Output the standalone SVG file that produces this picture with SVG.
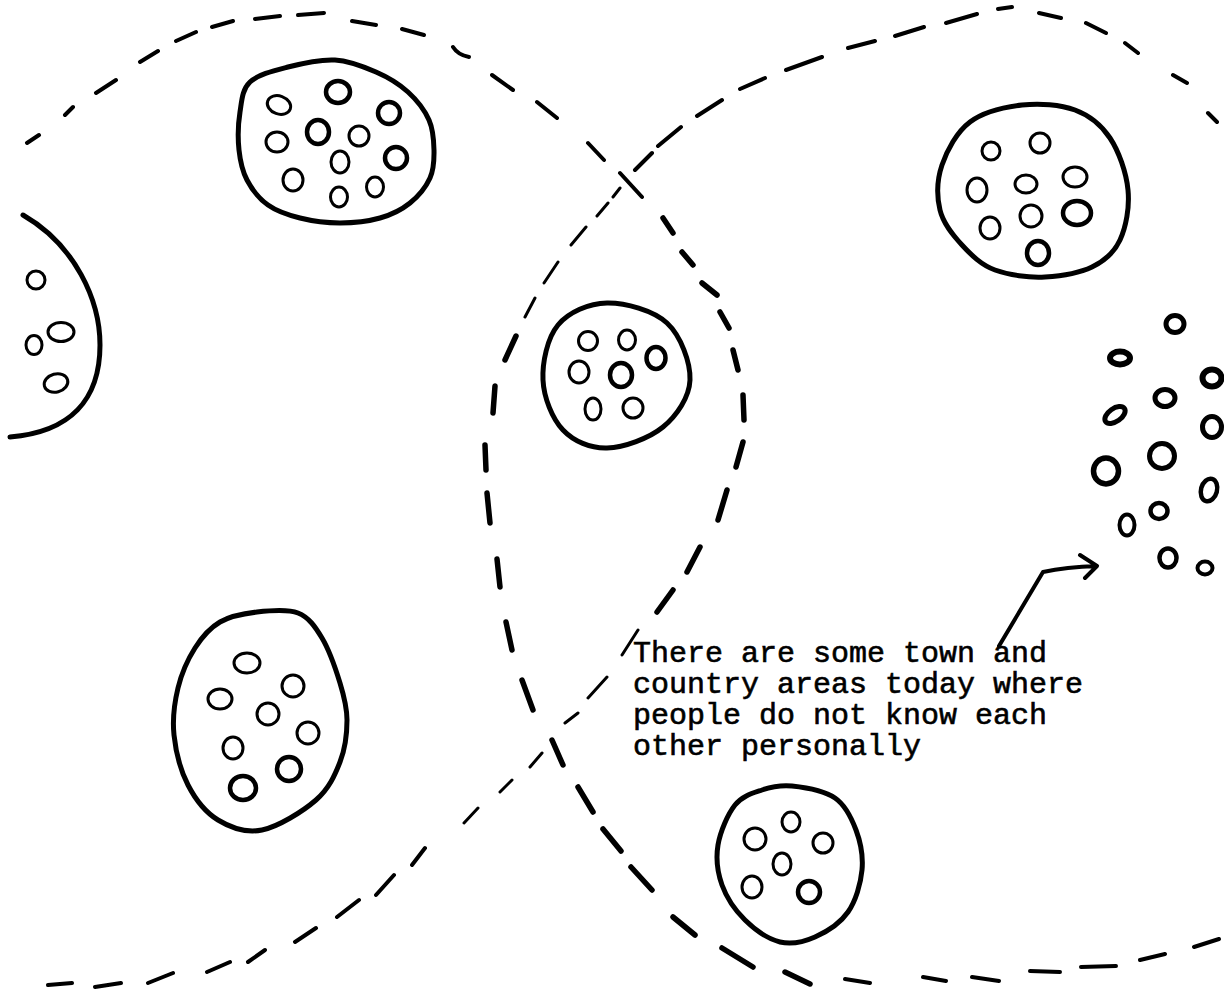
<svg xmlns="http://www.w3.org/2000/svg" width="1224" height="993" viewBox="0 0 1224 993">
<style>
.blob{fill:none;stroke:#000;stroke-width:5;stroke-linejoin:round;stroke-linecap:round}
.c{fill:none;stroke:#000;stroke-width:3}
.cb{fill:none;stroke:#000;stroke-width:4.5}
.d{fill:none;stroke:#000;stroke-linecap:round;stroke-width:4}
.dt{stroke-width:3}
.dk{stroke-width:5.5}
.txt{font-family:"Liberation Mono","DejaVu Sans Mono",monospace;font-size:30px;fill:#000;stroke:#000;stroke-width:0.6}
</style>
<rect width="1224" height="993" fill="#fff"/>
<g id="regions">
<path class="d" d="M27,143L39,135 M65,115L73,107 M96,93L116,80 M140,62L158,51 M176,41L196,32 M212,27L233,21 M255,19L280,16 M298,15L324,13 M352,21L376,25 M402,29L424,35 M453,47Q458,55 469,57 M492,75L513,90 M537,102L557,118 M588,143L604,160 M620,173L642,197"/>
<path class="d dk" d="M663,218L673,233 M682,252L693,265 M702,283L717,295 M720,312L729,328 M733,350L738,370 M743,395L744,420 M743,442L736,467 M727,490L718,520 M700,547L687,572 M673,590L657,612"/>
<path class="d dt" d="M638,630L622,655 M607,677L588,698 M578,713L565,723 M542,753L530,767 M512,780L500,792 M478,808L464,823"/>
<path class="d" d="M425,848L412,865 M394,875L376,895 M359,900L337,917 M316,928L295,942 M265,950L248,962 M230,962L207,972 M173,973L148,983 M121,983L95,987 M72,983L48,985"/>
<path class="d" d="M1217,122L1208,113 M1187,83L1173,75 M1138,53L1125,43 M1106,33L1086,23 M1061,18L1039,13 M1012,7L998,9 M977,14L946,23 M924,27L895,36 M875,41L848,48 M822,57L786,70 M765,78L740,89 M722,100L697,116 M681,127L658,146 M652,153L635,170"/>
<path class="d dt" d="M620,188L613,197 M608,203L597,216 M586,227L571,245 M558,262L544,283 M535,298L525,317"/>
<path class="d dk" d="M516,336L505,360 M495,386L493,413 M485,445L486,470 M487,493L490,523 M497,559L500,587 M506,622L512,650 M522,680L533,710 M552,740L563,765 M578,787L593,812 M603,829L621,851 M631,867L652,890 M673,917L695,935 M722,948L753,967 M785,972L810,984"/>
<path class="d" d="M845,979L870,983 M923,977L946,981 M972,977L999,981 M1030,971L1060,972 M1081,967L1116,966 M1140,960L1165,954 M1194,947L1219,939"/>
</g>
<g id="community-top-left">
<path class="blob" d="M335,60 C349.7,60.8 363.8,66.7 376,72 S399.2,84 408,92 S424.7,110.3 429,120 S433.8,140.3 434,150 S434,169.2 430,178 S418.3,196.3 410,203 S391.7,214.7 380,218 S353.3,223 340,223 S312,221 300,218 S276.8,211.3 268,205 S251.8,189.2 247,180 S240.2,161.3 239,150 S238.2,123.3 240,112 S242,89.5 250,82 S273.8,70.7 288,67 S320.3,59.2 335,60 Z"/>
<ellipse class="c" cx="279" cy="105" rx="12" ry="9" transform="rotate(20 279 105)"/>
<ellipse class="cb" cx="338" cy="92" rx="12" ry="11"/>
<ellipse class="cb" cx="389" cy="113" rx="11" ry="11"/>
<ellipse class="c" cx="277" cy="142" rx="11" ry="10"/>
<ellipse class="cb" cx="318" cy="132" rx="11" ry="12"/>
<ellipse class="c" cx="359" cy="136" rx="10" ry="10"/>
<ellipse class="cb" cx="396" cy="158" rx="11" ry="11"/>
<ellipse class="c" cx="340" cy="162" rx="9" ry="11"/>
<ellipse class="c" cx="293" cy="180" rx="10" ry="11"/>
<ellipse class="c" cx="339" cy="197" rx="8.5" ry="10"/>
<ellipse class="c" cx="375" cy="187" rx="8.5" ry="10"/>
</g>
<g id="community-left">
<path class="blob" d="M23,215 C75,245 100,300 100,345 C100,400 70,432 10,437"/>
<ellipse class="c" cx="36" cy="280" rx="9" ry="9"/>
<ellipse class="c" cx="61" cy="332" rx="13" ry="9.5"/>
<ellipse class="c" cx="34" cy="345" rx="8" ry="9.5"/>
<ellipse class="c" cx="56" cy="383" rx="12" ry="9" transform="rotate(-15 56 383)"/>
</g>
<g id="community-bottom-left">
<path class="blob" d="M257,612 C270,610.5 287.2,608.7 298,613 S315,626.3 322,638 S335.8,669.3 340,683 S347,706.8 347,720 S345.2,748.7 340,762 S329,788.7 316,800 S278.3,826.7 262,830 S230.3,827.5 218,820 S195.3,799.2 188,785 S175.7,751.2 174,735 S174.5,702.5 178,688 S188,659 195,648 S209.7,628 220,622 S244,613.5 257,612 Z"/>
<ellipse class="c" cx="247" cy="663" rx="13" ry="10"/>
<ellipse class="c" cx="293" cy="686" rx="11" ry="11"/>
<ellipse class="c" cx="220" cy="699" rx="12" ry="10"/>
<ellipse class="c" cx="268" cy="714" rx="11" ry="11"/>
<ellipse class="c" cx="308" cy="733" rx="11" ry="11"/>
<ellipse class="c" cx="233" cy="748" rx="10" ry="11"/>
<ellipse class="cb" cx="289" cy="769" rx="12" ry="12"/>
<ellipse class="cb" cx="243" cy="788" rx="13" ry="12"/>
</g>
<g id="community-center">
<path class="blob" d="M607,303 C625.2,302.7 653.2,310.2 667,323 S690.7,362.7 690,380 S676.8,415.7 663,427 S623.7,447.5 607,448 S573.7,441.3 563,430 S543.8,397.5 543,380 S547.3,337.8 558,325 S588.8,303.3 607,303 Z"/>
<ellipse class="c" cx="588" cy="341" rx="9.5" ry="9.5"/>
<ellipse class="c" cx="627" cy="340" rx="8.5" ry="10"/>
<ellipse class="cb" cx="656" cy="358" rx="9.5" ry="11"/>
<ellipse class="c" cx="579" cy="372" rx="10" ry="11"/>
<ellipse class="cb" cx="621" cy="375" rx="11" ry="12"/>
<ellipse class="c" cx="593" cy="409" rx="8" ry="11"/>
<ellipse class="c" cx="633" cy="408" rx="10" ry="10"/>
</g>
<g id="community-top-right">
<path class="blob" d="M1022,105 C1039.5,103 1060.3,104.5 1075,110 S1101.2,124.7 1110,138 S1126.3,172.5 1128,190 S1126,227 1120,240 S1104.5,261 1092,267 S1061.2,276 1045,277 S1008.8,275 995,270 S971.2,255 962,245 S943.3,223.8 940,210 S937,179.7 942,165 S956.7,132 970,122 S1004.5,107 1022,105 Z"/>
<ellipse class="c" cx="991" cy="151" rx="9" ry="9"/>
<ellipse class="c" cx="1040" cy="143" rx="10" ry="10"/>
<ellipse class="c" cx="1075" cy="177" rx="12" ry="10"/>
<ellipse class="c" cx="977" cy="190" rx="10" ry="12"/>
<ellipse class="c" cx="1026" cy="184" rx="11" ry="9"/>
<ellipse class="c" cx="1031" cy="216" rx="11" ry="11"/>
<ellipse class="cb" cx="1077" cy="213" rx="14" ry="12"/>
<ellipse class="c" cx="990" cy="228" rx="10" ry="11"/>
<ellipse class="cb" cx="1038" cy="253" rx="11" ry="12"/>
</g>
<g id="community-bottom">
<path class="blob" d="M792,786 C804.2,787.3 824.3,790.7 835,798 S851.5,818 856,830 S863.3,856.3 862,870 S855.8,900.8 848,912 S826.3,932 815,937 S791.7,944.8 780,942 S754.7,929.5 745,920 S726.5,897.5 722,885 S715.8,858.3 718,845 S727.7,814.2 735,805 S752.5,793.2 762,790 S779.8,784.7 792,786 Z"/>
<ellipse class="c" cx="791" cy="822" rx="9" ry="10"/>
<ellipse class="c" cx="755" cy="839" rx="11" ry="11"/>
<ellipse class="c" cx="823" cy="843" rx="10" ry="10"/>
<ellipse class="c" cx="782" cy="864" rx="9" ry="11"/>
<ellipse class="c" cx="752" cy="887" rx="10" ry="11"/>
<ellipse class="cb" cx="809" cy="892" rx="11" ry="11"/>
</g>
<g id="scattered-people">
<ellipse class="cb" cx="1175" cy="324" rx="9" ry="8.5" style="stroke-width:5"/>
<ellipse class="cb" cx="1120" cy="358" rx="10" ry="6.5" style="stroke-width:6"/>
<ellipse class="cb" cx="1212" cy="378" rx="9.5" ry="8.5" style="stroke-width:6"/>
<ellipse class="cb" cx="1165" cy="398" rx="10" ry="8.5" style="stroke-width:5"/>
<ellipse class="cb" cx="1115" cy="415" rx="11.5" ry="6.5" transform="rotate(-35 1115 415)" style="stroke-width:5"/>
<ellipse class="cb" cx="1212" cy="427" rx="9.5" ry="10.5" style="stroke-width:5"/>
<ellipse class="cb" cx="1162" cy="456" rx="12.5" ry="12.5" style="stroke-width:5"/>
<ellipse class="cb" cx="1106" cy="471" rx="12.5" ry="13" style="stroke-width:5.5"/>
<ellipse class="cb" cx="1209" cy="490" rx="8" ry="11.5" transform="rotate(15 1209 490)"/>
<ellipse class="cb" cx="1159" cy="511" rx="8.5" ry="8"/>
<ellipse class="c" cx="1127" cy="525" rx="7.5" ry="10.5" style="stroke-width:4"/>
<ellipse class="cb" cx="1168" cy="558" rx="8.5" ry="9.5"/>
<ellipse class="c" cx="1205" cy="568" rx="7.5" ry="6.5" style="stroke-width:4"/>
</g>
<g id="connectors">
<path d="M999,646 L1043,572 Q1066,567 1097,566 M1080,555 L1097,566 L1085,578" fill="none" stroke="#000" stroke-width="4" stroke-linecap="round" stroke-linejoin="round"/>
</g>
<g id="label">
<text class="txt" x="633" y="662">There are some town and</text>
<text class="txt" x="633" y="693">country areas today where</text>
<text class="txt" x="633" y="724">people do not know each</text>
<text class="txt" x="633" y="755">other personally</text>
</g>
</svg>
